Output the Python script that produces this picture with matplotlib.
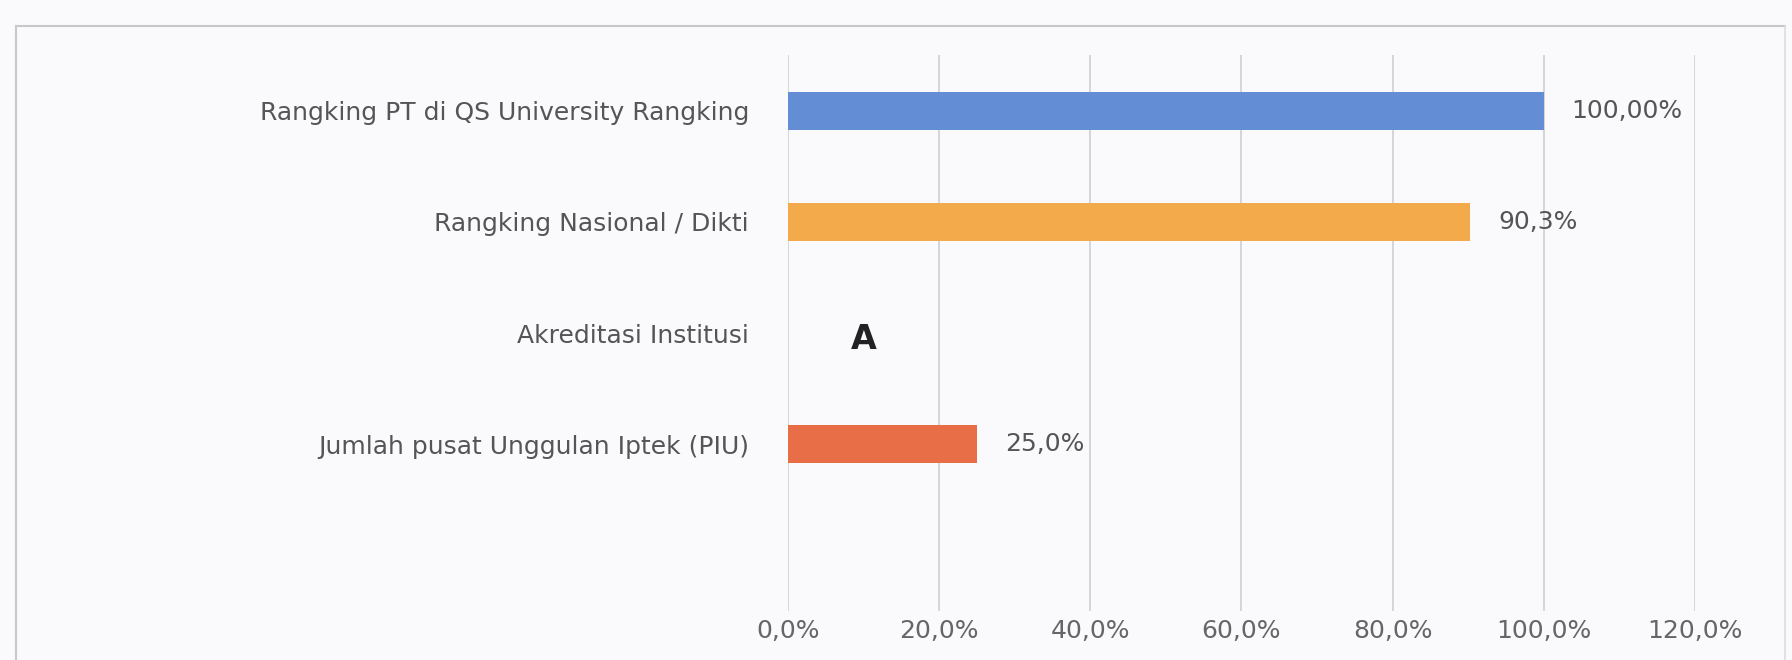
import matplotlib
matplotlib.use('Agg')
import matplotlib.pyplot as plt
from matplotlib.ticker import FuncFormatter

# data
categories = ['Rangking PT di QS University Rangking',
              'Rangking Nasional / Dikti',
              'Akreditasi Institusi',
              'Jumlah pusat Unggulan Iptek (PIU)']
values = [100.0, 90.3, None, 25.0]
value_labels = ['100,00%', '90,3%', 'A', '25,0%']
bar_colors = ['#638dd4', '#f2aa4a', '#ffffff', '#e86e48']
xticks = [0, 20, 40, 60, 80, 100, 120]

bg = '#fafafd'
fig = plt.figure(figsize=(17.92, 6.6), dpi=100, facecolor=bg)
ax = fig.add_axes([0.4397, 0.0742, 0.5061, 0.8424])
ax.set_facecolor(bg)

ypos = list(range(len(categories)))
for y, v, c in zip(ypos, values, bar_colors):
    if v is not None:
        ax.barh(y, v, height=0.34, color=c, zorder=3)

# value labels ("A" sits in the empty row)
for y, v, lab in zip(ypos, values, value_labels):
    if v is None:
        ax.text(10, y + 0.06, lab, ha='center', va='center', fontsize=24,
                color='#222222', fontweight='bold')
    else:
        ax.annotate(lab, (v, y), xytext=(20, 0), textcoords='offset points',
                    ha='left', va='center', fontsize=18, color='#555555')

ax.set_xlim(0, 120)
ax.set_ylim(4.5, -0.5)   # blank slot at the bottom, like the excel chart
ax.set_xticks(xticks)
ax.xaxis.set_major_formatter(FuncFormatter(lambda x, p: ('%.1f%%' % x).replace('.', ',')))
ax.set_yticks(ypos)
ax.set_yticklabels(categories)
ax.tick_params(axis='y', length=0, pad=28, labelsize=18, labelcolor='#555555')
ax.tick_params(axis='x', length=0, pad=6, labelsize=18, labelcolor='#666666')
ax.grid(axis='x', color='#cfcfd4', linewidth=1.2, zorder=0)
for s in ax.spines.values():
    s.set_visible(False)

# outer chart border
fig.add_artist(plt.Line2D([16 / 1792, 16 / 1792], [0, 1 - 26 / 660],
                          transform=fig.transFigure, color='#c8c8cc', lw=1.5))
fig.add_artist(plt.Line2D([16 / 1792, 1785 / 1792], [1 - 26 / 660, 1 - 26 / 660],
                          transform=fig.transFigure, color='#c8c8cc', lw=1.5))
fig.add_artist(plt.Line2D([1785 / 1792, 1785 / 1792], [0, 1 - 26 / 660],
                          transform=fig.transFigure, color='#dcdce0', lw=1.2))

fig.savefig('out.png', dpi=100, facecolor=bg)
